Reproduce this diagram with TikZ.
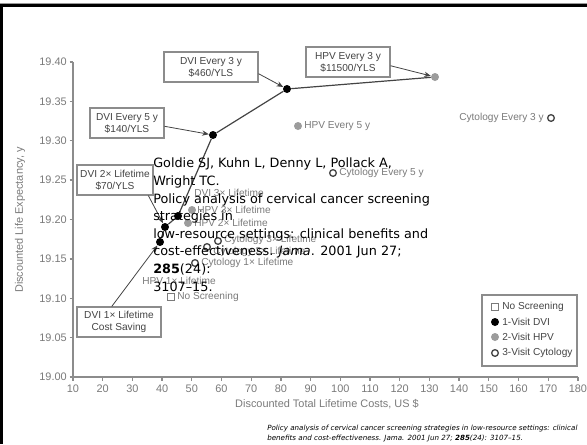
\documentclass[tikz,border=0pt]{standalone}
\usepackage{fontspec}
\setmainfont{DejaVu Sans}
\newfontfamily\chartfont{Liberation Sans}
\usetikzlibrary{arrows.meta}

\definecolor{axisgray}{HTML}{8C8C8C}
\definecolor{labelgray}{HTML}{7A7A7A}
\definecolor{boxtext}{HTML}{444444}
\definecolor{hpvgray}{HTML}{9C9C9C}

\begin{document}
\begin{tikzpicture}[x=0.75pt, y=-0.75pt,
  ax/.style={draw=axisgray, line width=1pt},
  ticklab/.style={font=\chartfont\fontsize{8.2}{9}\selectfont, text=labelgray, inner sep=0pt},
  callout/.style={draw=axisgray, fill=white, line width=0.8pt, text=boxtext, align=center,
    font=\chartfont\fontsize{7.6}{9}\selectfont, minimum height=22.5pt, inner sep=1pt},
  dvipt/.style={circle, fill=black, inner sep=0pt, minimum size=6pt},
  hpvpt/.style={circle, fill=hpvgray, inner sep=0pt, minimum size=6pt},
  cytpt/.style={circle, draw=boxtext, fill=white, line width=1pt, inner sep=0pt, minimum size=5pt},
  nonept/.style={rectangle, draw=labelgray, fill=white, line width=0.7pt, inner sep=0pt, minimum size=5.5pt},
  ptlabel/.style={font=\chartfont\fontsize{7.6}{9}\selectfont, text=labelgray, inner sep=0pt},
  pointer/.style={draw=boxtext, line width=0.6pt, -{Stealth[length=5pt,width=4pt]}},
  frontier/.style={draw=boxtext, line width=0.9pt}
]
\useasboundingbox (0,0) rectangle (587,444);

% frame
\fill[black!40] (0,2.5) rectangle (587,3.5);
\fill[black] (0,3.5) rectangle (587,6.5);
\fill[black] (0,3.5) rectangle (3,444);

% axes
\draw[ax] (73,62) -- (73,377) -- (578,377);
\foreach \ytext [count=\k from 0] in {19.00,19.05,19.10,19.15,19.20,19.25,19.30,19.35,19.40}
{
    \draw[ax] (69.5,{377-39.375*\k}) -- (73,{377-39.375*\k});
    \node[ticklab, anchor=east] at (67,{377-39.375*\k}) {\ytext};
}
\foreach \xv in {10,20,...,180}
{
    \draw[ax] ({73+2.97*(\xv-10)},377) -- ({73+2.97*(\xv-10)},380.5);
    \node[ticklab] at ({73+2.97*(\xv-10)},389) {\xv};
}
\node[ticklab, rotate=90] (ytitle) at (20,220) {Discounted Life Expectancy, y};
\node[ticklab] (xtitle) at (327,404) {Discounted Total Lifetime Costs, US \$};

% strategies
\node[dvipt] (dvione) at (160,242) {};
\node[dvipt] (dvitwo) at (165,227) {};
\node[dvipt] (dvithree) at (178,216) {};
\node[dvipt] (dvifive) at (213,135) {};
\node[dvipt] (dvievery) at (287,89) {};
\node[hpvpt] (hpvevery) at (435,77) {};
\node[hpvpt] (hpvfive) at (298,126) {};
\node[hpvpt] (hpvthree) at (192,210) {};
\node[hpvpt] (hpvtwo) at (188,223) {};
\node[cytpt] (cytthree) at (218,241) {};
\node[cytpt] (cyttwo) at (207,247) {};
\node[cytpt] (cytone) at (195,263) {};
\node[cytpt] (cytfive) at (333,173) {};
\node[cytpt] (cytevery) at (551,118) {};
\node[nonept] (nonescr) at (171,297) {};

\draw[frontier] (dvione) -- (dvitwo) -- (dvithree) -- (dvifive) -- (dvievery) -- (hpvevery);

\node[ptlabel, anchor=west] at (304,126) {HPV Every 5 y};
\node[ptlabel, anchor=east] at (544,118) {Cytology Every 3 y};
\node[ptlabel, anchor=west] at (339,173) {Cytology Every 5 y};
\node[ptlabel, anchor=west] at (194,193) {DVI 3× Lifetime};
\node[ptlabel, anchor=west] at (197,210) {HPV 3× Lifetime};
\node[ptlabel, anchor=west] at (194,223) {HPV 2× Lifetime};
\node[ptlabel, anchor=west] at (224,240) {Cytology 3× Lifetime};
\node[ptlabel, anchor=west] at (213,252) {Cytology 2× Lifetime};
\node[ptlabel, anchor=west] at (201,263) {Cytology 1× Lifetime};
\node[ptlabel, anchor=west] at (142,281) {HPV 1× Lifetime};
\node[ptlabel, anchor=west] at (177,297) {No Screening};

% callouts
\node[callout, minimum width=70.5pt] (dvieverybox) at (211,67) {DVI Every 3 y\\\$460/YLS};
\node[callout, minimum width=55.5pt] (dvifivebox) at (127,123) {DVI Every 5 y\\\$140/YLS};
\node[callout, minimum width=57pt] (dvitwobox) at (115,180) {DVI 2× Lifetime\\\$70/YLS};
\node[callout, minimum width=63pt] (dvionebox) at (119,322) {DVI 1× Lifetime\\Cost Saving};
\node[callout, minimum width=63pt] (hpveverybox) at (348,62) {HPV Every 3 y\\\$11500/YLS};

\draw[pointer] (dvieverybox.-8) -- (dvievery);
\draw[pointer] (dvifivebox.-5) -- (dvifive);
\draw[pointer] (dvitwobox.-25) -- (dvitwo);
\draw[pointer] (dvionebox.115) -- (dvione);
\draw[pointer] (hpveverybox.-5) -- (hpvevery);

% legend
\draw[draw=axisgray, line width=0.8pt] (482,295) rectangle (577,366);
\node[nonept] (legnone) at (495,307) {};
\node[dvipt] (legdvi) at (495,322) {};
\node[hpvpt] (leghpv) at (495,337) {};
\node[cytpt] (legcyt) at (495,353) {};
\foreach \ly/\ltext in {307/No Screening,322/1-Visit DVI,337/2-Visit HPV,353/3-Visit Cytology}
{
    \node[ptlabel, text=boxtext, anchor=west] at (502,\ly) {\ltext};
}

% reference text
\node[anchor=north west, align=left, inner sep=0pt, font=\fontsize{9.6}{13.2}\selectfont] (ref) at (153,158)
  {Goldie SJ, Kuhn L, Denny L, Pollack A,\\
   Wright TC.\\
   Policy analysis of cervical cancer screening\\
   strategies in\\
   low-resource settings: clinical benefits and\\
   cost-effectiveness. \textit{Jama}. 2001 Jun 27;\\
   \textbf{285}(24):\\
   3107–15.};

\node[anchor=north west, align=left, inner sep=0pt, font=\itshape\fontsize{5.35}{7}\selectfont] (cite) at (267,425)
  {Policy analysis of cervical cancer screening strategies in low-resource settings: clinical\\
   benefits and cost-effectiveness. Jama. 2001 Jun 27; \textbf{285}(24): 3107–15.};
\end{tikzpicture}
\end{document}
